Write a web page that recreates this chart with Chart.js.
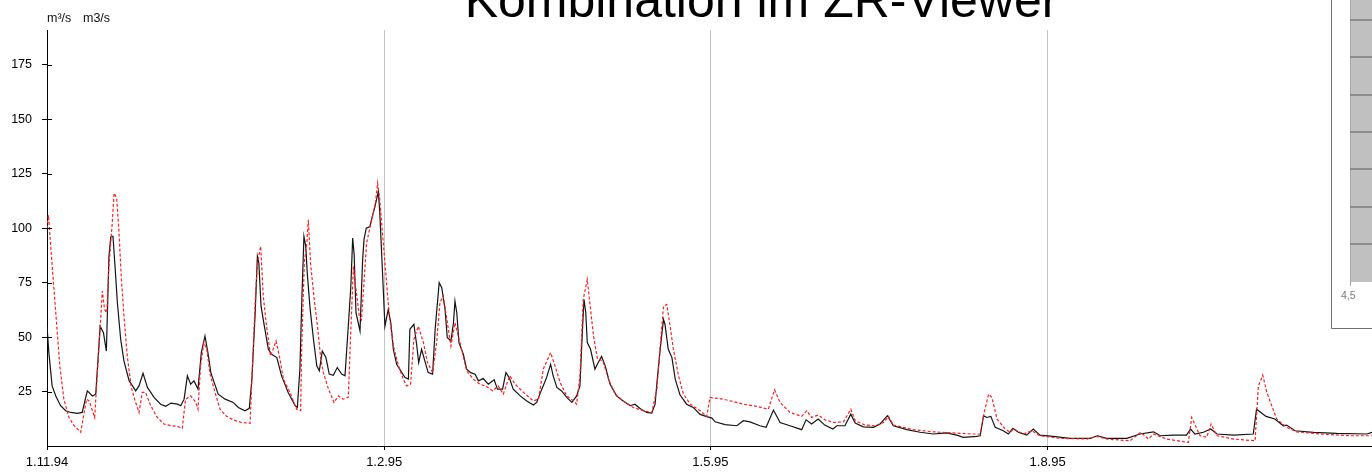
<!DOCTYPE html>
<html><head><meta charset="utf-8">
<script src="https://cdn.jsdelivr.net/npm/chart.js@4/dist/chart.umd.min.js"></script>
<style>html,body{margin:0;padding:0;background:#fff;overflow:hidden}#wrap{position:relative;width:1372px;height:472px}</style>
</head><body><div id="wrap"><canvas id="c" width="1372" height="472"></canvas></div>
<script>
// x values are days since 1.11.94
const tickDays = [0, 92, 181, 273];
const tickLabels = ['1.11.94', '1.2.95', '1.5.95', '1.8.95'];
const yTicks = [25, 50, 75, 100, 125, 150, 175];
const titleText = 'Kombination im ZR-Viewer';
const unitLabels = ['m³/s', 'm3/s'];
const panelLabel = '4,5';

// observed discharge (black, solid)
const obsDays = [
0,0.5,1.4,2.4,3.7,5.1,6.5,8.3,9.6,11.0,
12.4,13.3,14.5,15.4,16.2,16.9,17.4,18.0,18.5,19.2,
20.1,21.0,22.4,24.2,25.1,26.2,27.4,29.2,31.0,32.4,
33.8,35.6,36.5,37.4,38.3,39.2,40.1,41.2,42.1,43.1,
43.9,44.7,45.6,46.7,48.6,50.8,52.2,54.0,55.2,55.9,
56.8,57.4,57.8,58.4,59.3,60.4,61.3,62.7,64.0,65.8,
67.7,68.3,69.0,69.5,70.1,70.6,71.0,71.8,72.7,73.6,
74.3,75.1,76.1,77.0,78.1,79.2,80.4,81.3,82.2,82.9,
83.4,83.8,84.3,85.4,86.1,86.5,87.1,88.1,89.0,89.9,
90.4,90.8,91.5,92.2,93.1,93.8,94.5,95.4,96.8,97.7,
98.6,99.0,100.1,100.9,101.4,102.2,103.1,104.0,105.2,105.9,
107.0,107.7,108.6,109.2,110.2,110.9,111.3,111.8,112.4,113.6,
114.5,115.6,116.8,117.7,119.0,120.4,122.0,122.9,124.3,125.2,
126.1,127.2,129.1,130.9,132.7,133.6,135.0,136.3,137.4,138.1,
139.1,140.4,141.8,143.2,144.5,145.4,146.1,146.5,147.0,147.4,
148.3,149.5,150.4,151.3,152.3,153.6,155.4,157.2,159.1,160.4,
161.8,163.6,165.0,165.9,166.5,167.3,168.2,168.6,169.5,170.5,
171.4,172.7,174.5,176.3,178.2,180.0,181.4,182.3,185.0,188.2,
190.0,191.8,194.5,196.2,198.2,200.0,202.7,205.9,207.1,208.6,
210.4,212.2,214.4,215.5,217.7,219.3,220.5,222.7,225.5,227.3,
229.3,230.9,234.6,238.2,241.8,245.5,248.2,250.0,253.6,254.6,
255.5,256.4,257.5,258.7,260.9,262.3,263.5,265.0,267.3,269.1,
270.9,274.5,279.1,284.6,286.6,289.1,294.6,298.2,301.9,303.7,
307.3,310.9,312.0,313.2,315.5,317.5,319.2,323.7,329.1,330.0,
332.6,335.0,337.3,338.2,340.5,345.5,351.9,360.1,361.5,365
];
const obsFlow = [
55,43,27.6,23,18.5,16.2,15.4,15,15.4,25.3,
23,23.8,55,52,43.6,87,96,96.3,84,65.8,
49,39,30,25.3,27.6,33.4,26.9,22.3,19.2,18.2,
19.7,19.2,18.5,21.5,32.2,28.4,29.9,26.1,42.9,50.5,
42.9,33.7,29.2,23.8,21.5,20,17.7,16.2,17.3,30.7,
61.2,87.1,84,64.2,55,44.4,42.1,40.6,32.2,24.6,
18.5,17.7,35.3,65.8,96.3,91.7,79.5,62.7,49,36.8,
34.5,43.6,40.6,33,32.5,36,33,32.2,55,73.4,
95.5,88,61.2,52.8,85,95,100,100.8,107,113,
117,107,81,55,62.7,56.6,44.4,37.5,33.7,31.4,
30.7,53.6,55.9,45.9,38.3,44.4,39,33.7,33,53.6,
75,72.7,62.7,49.8,48.2,56.6,66.5,61.2,47.5,42.1,
35.3,33.7,33,29.9,31,28.4,30.4,26.1,26.1,33.7,
31.4,26.1,23,20.7,18.8,20,26.1,31.4,37.5,32.2,
26.9,25.3,22.3,20,23,27.6,53.6,67.3,61.2,47.5,
44.4,35.3,38.3,41.1,36.8,28.4,23,20.7,18.5,19.2,
17.2,15.4,15.1,19.2,30.7,44.4,58.1,55.9,44.4,40.6,
30.7,23.5,19.2,17.7,14.5,13.5,12.8,11.1,9.8,9.3,
11.6,11.1,9.3,8.6,16.5,10.8,9.3,7.5,12,10.1,
12.4,9.6,7.8,9.3,9.3,14.6,10.5,8.8,8.6,10.1,
13.9,9.3,7.5,6.3,5.5,6,5,4,4.4,4.7,
13.9,13.1,13.6,8.6,7,5.5,8.1,6.3,5,7.8,
5,4.4,3.5,3.5,4.7,3.5,3.5,5.5,6.5,4.7,
5,5,7.8,5.5,6.3,7.8,5.5,5,5.5,16.9,
13.6,12.4,9.3,9.6,7,6.3,5.8,5.5,6.3,6
];

// simulated discharge (red, dashed)
const simDays = [
0,0.4,1.0,1.7,2.6,3.5,4.6,6.0,7.4,9.2,
9.9,10.8,11.5,13.0,14.2,15.1,15.7,16.3,16.9,17.8,
18.3,19.0,19.6,20.3,21.0,21.9,23.0,23.9,25.1,26.0,
26.9,28.3,30.1,31.9,33.8,35.6,36.9,37.8,39.2,40.6,
41.2,41.9,42.8,43.6,44.5,45.6,47.2,48.8,50.8,53.1,
55.4,55.9,56.8,57.4,58.3,59.0,59.9,61.0,61.7,62.5,
63.4,64.5,66.3,68.1,69.2,69.5,70.2,70.9,71.3,71.9,
72.9,73.8,74.7,75.4,76.8,78.3,79.5,80.8,82.2,82.9,
83.6,84.3,85.2,85.8,87.2,88.6,89.5,90.2,90.8,91.6,
92.5,93.4,94.5,95.9,97.2,98.1,99.2,100.1,101.3,102.7,
103.8,105.2,106.3,107.2,108.1,109.1,110.2,111.3,112.2,113.1,
114.5,116.3,118.1,119.9,121.6,123.1,124.5,125.6,126.3,127.7,
130.0,132.7,134.1,135.4,137.4,138.6,140.0,141.8,143.6,144.5,
145.4,146.3,147.4,148.2,149.1,150.2,150.9,151.8,153.2,155.0,
157.2,159.9,162.7,165.0,166.4,167.3,168.2,169.1,170.0,170.9,
172.3,173.6,175.5,178.2,180.0,180.9,184.5,190.0,193.6,196.8,
198.5,200.0,202.7,205.9,207.3,208.6,210.4,212.3,214.6,217.3,
219.3,220.5,223.2,225.9,228.2,229.6,230.9,236.4,241.8,247.3,
252.4,254.6,255.7,256.9,257.8,259.2,261.4,262.8,263.7,265.5,
266.4,268.7,270.9,276.4,283.7,286.6,289.1,295.5,298.4,300.5,
301.9,305.5,310.0,311.4,312.3,314.6,316.4,317.6,319.2,323.7,
329.6,330.5,331.7,332.8,335.5,338.2,341.0,347.3,355.8,361.5,
365
];
const simFlow = [
100,106,92,76.5,56.6,36.8,21.5,13.1,9.3,6.3,
13.1,21.5,20.7,13.1,45.9,71.1,62.7,61.2,82.5,102.4,
116.1,113.9,99.3,76.5,59.7,41.3,26.9,21.5,15.4,24.6,
24.6,18.5,13.1,10.1,9.3,9,8.1,21.5,23,20,
16.9,36.8,47.5,44.4,33,26,16.9,13.9,12,10.8,
10.4,30.7,65.8,84.1,91.7,68.8,55,41.3,44.4,48.2,
41.3,30.7,24.6,16.9,16.2,45.9,84.1,93.3,103.9,84.1,
67.3,55,39.8,33.7,26.1,20,23,21.5,22.3,53.6,
82.5,71.9,59.7,58,93.3,104,110,120.7,113,96.3,
78,59.7,45.9,36.8,30.7,27.6,28.4,49,55,47.5,
38.3,33.7,47.5,65.8,68.8,58.1,45.9,56.6,50.5,44.4,
34.5,30.7,28.4,27.3,25.3,27.6,23.8,29.2,32.2,28.4,
24.6,20.7,21.5,35.3,42.9,36.8,29.2,23,20.7,19.2,
32.2,67.3,76.5,64.2,50.5,39.8,39.8,38.3,30.7,23.8,
20.7,17.7,16.2,15.4,26.1,45.9,64.2,65,55,44.4,
32.2,24,19.2,16.2,13.6,22.3,21.5,19.2,18.2,16.9,
25.8,20,15.4,13.6,16.2,13.1,14.2,12,10.8,11.1,
16.9,11.6,9.6,9.3,10.8,13.6,9.6,7.5,6.5,6,
5.5,5.5,15.4,23.8,22.3,12.4,7.8,6.3,7.8,6.3,
5.5,7,4.7,3.5,3.2,4.4,3.2,2.4,6.3,3.2,
5.5,3.2,2,1.7,13.1,4.7,4,10.1,4.7,3.2,
2.4,27.6,32.5,24.6,12.4,8.6,6.5,5.5,4.7,4.7,
4.5
];

const toPoints = (xs, ys) => xs.map((x, i) => ({ x: x, y: ys[i] }));
const FONT = '"Liberation Sans", Arial, sans-serif';

const decor = {
  id: 'decor',
  afterDraw(chart) {
    const ctx = chart.ctx;
    const ys = chart.scales.y;
    const area = chart.chartArea;
    ctx.save();
    // inner half of the y tick marks
    ctx.strokeStyle = '#000';
    ctx.lineWidth = 1;
    ys.ticks.forEach(t => {
      const py = Math.round(ys.getPixelForValue(t.value)) + 0.5;
      ctx.beginPath();
      ctx.moveTo(area.left, py);
      ctx.lineTo(area.left + 5, py);
      ctx.stroke();
    });
    // title (slide heading, cropped at top)
    ctx.fillStyle = '#000';
    ctx.font = '50px ' + FONT;
    ctx.textAlign = 'center';
    ctx.textBaseline = 'alphabetic';
    ctx.fillText(titleText, 761.5, 17);
    // unit labels
    ctx.font = '12.5px ' + FONT;
    ctx.textAlign = 'left';
    ctx.fillStyle = '#111';
    ctx.fillText(unitLabels[0], 47, 22);
    ctx.fillText(unitLabels[1], 83, 22);
    // side panel
    ctx.fillStyle = '#fff';
    ctx.fillRect(1331, 0, 41, 329);
    ctx.strokeStyle = '#6f6f6f';
    ctx.lineWidth = 1;
    ctx.beginPath();
    ctx.moveTo(1331.5, 0); ctx.lineTo(1331.5, 328.5); ctx.lineTo(1372, 328.5);
    ctx.stroke();
    ctx.fillStyle = '#c0c0c0';
    ctx.fillRect(1350, 0, 22, 282);
    ctx.strokeStyle = '#a8a8a8';
    ctx.beginPath();
    ctx.moveTo(1350.5, 0); ctx.lineTo(1350.5, 286);
    ctx.stroke();
    ctx.strokeStyle = '#7c7c7c';
    ctx.lineWidth = 1.5;
    [20, 57, 95, 132, 169, 207, 244].forEach(y => {
      ctx.beginPath(); ctx.moveTo(1350, y); ctx.lineTo(1372, y); ctx.stroke();
    });
    ctx.fillStyle = '#7a7a7a';
    ctx.font = '10.5px ' + FONT;
    ctx.fillText(panelLabel, 1341, 299);
    ctx.restore();
  }
};

new Chart(document.getElementById('c'), {
  type: 'line',
  data: {
    datasets: [
      { label: 'Simulation', data: toPoints(simDays, simFlow), borderColor: '#ff1e1e', borderWidth: 1.2,
        borderDash: [3, 2], pointRadius: 0, tension: 0, fill: false },
      { label: 'Beobachtung', data: toPoints(obsDays, obsFlow), borderColor: '#141414', borderWidth: 1.2,
        pointRadius: 0, tension: 0, fill: false }
    ]
  },
  options: {
    responsive: false,
    animation: false,
    devicePixelRatio: 1,
    parsing: true,
    layout: { padding: { top: 30, left: 0, right: 0, bottom: 0 } },
    plugins: { legend: { display: false }, tooltip: { enabled: false }, title: { display: false } },
    scales: {
      x: {
        type: 'linear', min: 0, max: 361.5,
        afterBuildTicks: s => { s.ticks = tickDays.map(v => ({ value: v })); },
        afterFit: s => { s.height = 26; },
        ticks: {
          autoSkip: false, maxRotation: 0, padding: 5, color: '#000',
          font: { family: FONT, size: 13 },
          callback: (v) => { const i = tickDays.indexOf(v); return i >= 0 ? tickLabels[i] : ''; }
        },
        grid: {
          color: ctx => (ctx.tick && ctx.tick.value === 0) ? 'rgba(0,0,0,0)' : '#c4c4c4',
          lineWidth: 1, tickColor: '#000', tickLength: 4, drawTicks: true
        },
        border: { color: '#000', width: 1 }
      },
      y: {
        type: 'linear', min: 0, max: 191,
        afterBuildTicks: s => { s.ticks = yTicks.map(v => ({ value: v })); },
        afterFit: s => { s.width = 47; },
        ticks: { padding: 10, color: '#000', font: { family: FONT, size: 12.5 } },
        grid: { drawOnChartArea: false, tickLength: 5, tickColor: '#000' },
        border: { color: '#000', width: 1 }
      }
    }
  },
  plugins: [decor]
});
</script>
</body></html>
